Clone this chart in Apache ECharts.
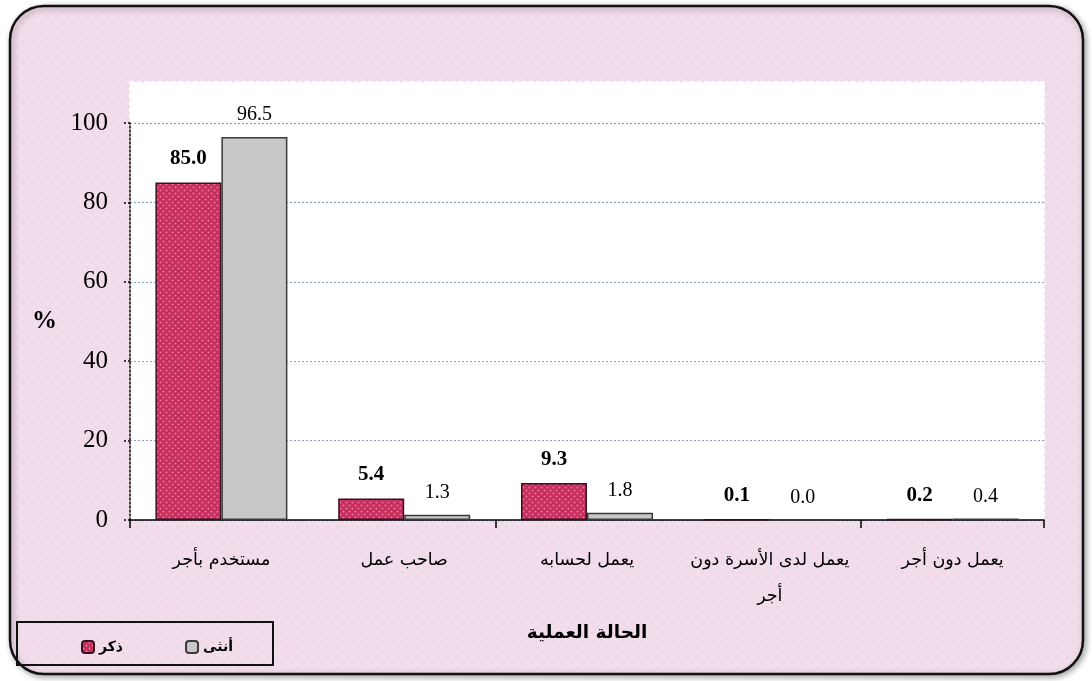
<!DOCTYPE html>
<html><head><meta charset="utf-8">
<script src="https://cdn.jsdelivr.net/npm/echarts@6/dist/echarts.min.js"></script>
<style>html,body{margin:0;padding:0;background:#fff}#c{width:1092px;height:681px}</style>
</head><body><div id="c"></div>
<script>
var categories = ['مستخدم بأجر', 'صاحب عمل', 'يعمل لحسابه', 'يعمل لدى الأسرة دون\nأجر', 'يعمل دون أجر'];
var maleValues = [85.0, 5.4, 9.3, 0.1, 0.2];
var femaleValues = [96.5, 1.3, 1.8, 0.0, 0.4];
var seriesNames = ['ذكر', 'أنثى'];
var yTicks = [0, 20, 40, 60, 80, 100];

function makePattern(bg, dot, size) {
  var c = document.createElement('canvas');
  c.width = size; c.height = size;
  var g = c.getContext('2d');
  g.fillStyle = bg; g.fillRect(0, 0, size, size);
  g.fillStyle = dot;
  g.beginPath(); g.arc(size * 0.25, size * 0.25, size * 0.18, 0, Math.PI * 2); g.fill();
  g.beginPath(); g.arc(size * 0.75, size * 0.75, size * 0.18, 0, Math.PI * 2); g.fill();
  return c;
}
var bgPat = { image: makePattern('#f4dcec', '#e4dde2', 10), repeat: 'repeat' };
var malePat = { image: makePattern('#c62f5c', '#e8759b', 6), repeat: 'repeat' };

var chart = echarts.init(document.getElementById('c'), null, { renderer: 'canvas' });
var serif = 'Liberation Serif, DejaVu Serif, DejaVu Sans';
var arab = 'DejaVu Sans, Noto Sans, sans-serif';

chart.setOption({
  animation: false,
  graphic: [
    { type: 'rect', z: -20, shape: { x: 10, y: 6, width: 1073, height: 668, r: 34 },
      style: { fill: bgPat, stroke: '#111', lineWidth: 2.5, shadowBlur: 6, shadowColor: 'rgba(0,0,0,0.35)', shadowOffsetX: 2, shadowOffsetY: 2 } },
    { type: 'rect', z: -10, shape: { x: 130, y: 82, width: 914, height: 438 },
      style: { fill: '#ffffff', stroke: '#ffffff', lineWidth: 2, lineDash: [4, 3] } },
    { type: 'rect', z: -5, shape: { x: 17, y: 622, width: 256, height: 43 },
      style: { fill: 'rgba(0,0,0,0)', stroke: '#111', lineWidth: 2 } }
  ],
  legend: {
    data: seriesNames,
    left: 76, top: 635,
    itemWidth: 12, itemHeight: 12, itemGap: 62,
    textStyle: { fontFamily: arab, fontSize: 14, fontWeight: 'bold', color: '#000' }
  },
  grid: { left: 130, right: 48, top: 123, bottom: 161, containLabel: false },
  xAxis: {
    type: 'category', data: categories,
    name: 'الحالة العملية', nameLocation: 'middle', nameGap: 104,
    nameTextStyle: { fontFamily: arab, fontSize: 18.5, fontWeight: 'bold', color: '#000' },
    axisLine: { lineStyle: { color: '#000', width: 1.5 } },
    axisTick: { show: true, interval: 1, length: 8, lineStyle: { color: '#000', width: 1.5 } },
    axisLabel: { interval: 0, margin: 22, fontFamily: arab, fontSize: 17.5, color: '#000', lineHeight: 36 }
  },
  yAxis: {
    type: 'value', min: 0, max: 100, interval: 20,
    name: '%', nameLocation: 'middle', nameGap: 73, nameRotate: 0,
    nameTextStyle: { fontFamily: serif, fontSize: 25, fontWeight: 'bold', color: '#000' },
    axisLine: { show: true, lineStyle: { color: '#000', width: 1.5, type: [2, 2] } },
    axisTick: { show: true, length: 7, lineStyle: { color: '#000', width: 1.5, type: [2, 2] } },
    axisLabel: { margin: 22, fontFamily: serif, fontSize: 25, color: '#000',
      formatter: function (v) { return yTicks.indexOf(v) >= 0 ? String(v) : ''; } },
    splitLine: { show: true, lineStyle: { color: '#8aa0c6', width: 1.2, type: [2, 2] } }
  },
  series: [
    { name: seriesNames[0], type: 'bar', data: maleValues, barWidth: 66, barGap: '0%',
      itemStyle: { color: malePat, borderColor: '#3a1020', borderWidth: 1.5 },
      label: { show: true, position: 'top', distance: 13, fontFamily: serif, fontSize: 21, fontWeight: 'bold', color: '#000',
        formatter: function (p) { return p.value.toFixed(1); } } },
    { name: seriesNames[1], type: 'bar', data: femaleValues, barWidth: 66,
      itemStyle: { color: '#c8c8c8', borderColor: '#3a3a3a', borderWidth: 1.5 },
      label: { show: true, position: 'top', distance: 12, fontFamily: serif, fontSize: 20, color: '#000',
        formatter: function (p) { return p.value.toFixed(1); } } }
  ]
});
</script></body></html>
